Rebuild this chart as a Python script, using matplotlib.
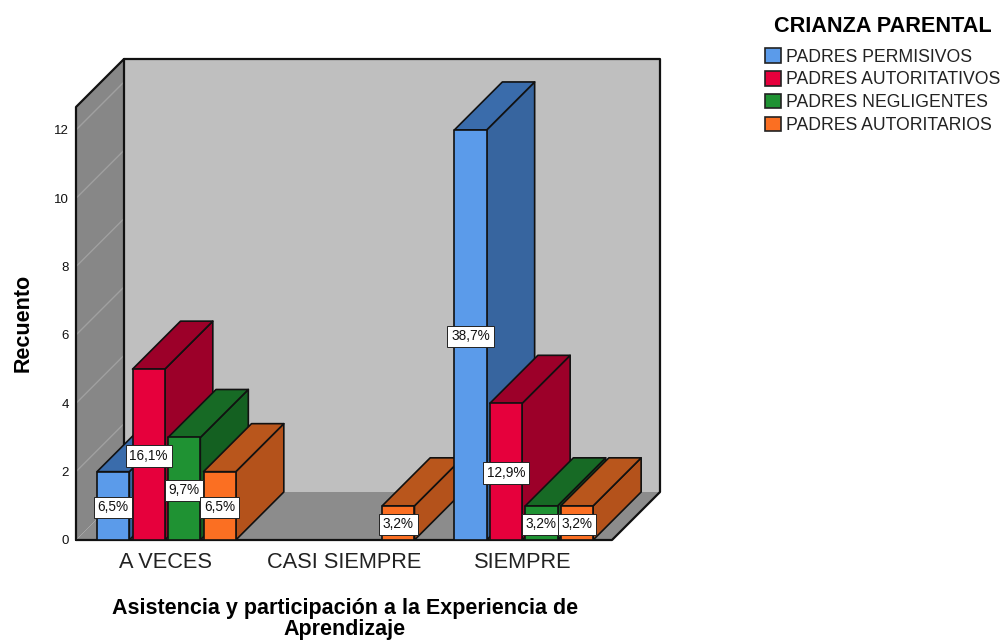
import matplotlib
matplotlib.use("Agg")
import matplotlib.pyplot as plt
from matplotlib.patches import Polygon, Patch

plt.rcParams['font.family'] = ['Liberation Sans', 'DejaVu Sans']

categories = ["A VECES", "CASI SIEMPRE", "SIEMPRE"]
series = ["PADRES PERMISIVOS", "PADRES AUTORITATIVOS", "PADRES NEGLIGENTES", "PADRES AUTORITARIOS"]
permisivos = [2, 0, 12]
autoritativos = [5, 0, 4]
negligentes = [3, 0, 1]
autoritarios = [2, 1, 1]
pct_permisivos = ["6,5%", None, "38,7%"]
pct_autoritativos = ["16,1%", None, "12,9%"]
pct_negligentes = ["9,7%", None, "3,2%"]
pct_autoritarios = ["6,5%", "3,2%", "3,2%"]
yticks = [0, 2, 4, 6, 8, 10, 12]

front = ["#5b9bea", "#e6003c", "#1f9233", "#fb6f22"]
side = ["#37659f", "#9c0029", "#146021", "#b4521b"]
top = ["#3a6cab", "#9c0029", "#176a25", "#b9561c"]

W, H = 1008, 640
fig = plt.figure(figsize=(W / 100, H / 100), dpi=100, facecolor="white")
px_left, px_right, px_bottom, px_top = 76, 612, 540, 107
ax = fig.add_axes([px_left / W, 1 - px_bottom / H, (px_right - px_left) / W, (px_bottom - px_top) / H])
ax.set_xlim(-0.5, 2.5)
px_per_y = 34.17
ax.set_ylim(0, (px_bottom - px_top) / px_per_y)
px_per_x = (px_right - px_left) / 3
dx = 48 / px_per_x
dy = 48 / px_per_y
ymax = ax.get_ylim()[1]
x0, x1 = ax.get_xlim()

def poly(pts, fc, ec="#111111", lw=1.2, z=2):
    ax.add_patch(Polygon(pts, closed=True, facecolor=fc, edgecolor=ec, linewidth=lw, clip_on=False, zorder=z, joinstyle="round"))

# walls
poly([(x0 + dx, dy), (x1 + dx, dy), (x1 + dx, ymax + dy), (x0 + dx, ymax + dy)], "#bfbfbf", ec="none", lw=0)
poly([(x0, 0), (x0 + dx, dy), (x0 + dx, ymax + dy), (x0, ymax)], "#878787", ec="none", lw=0)
poly([(x0, 0), (x1, 0), (x1 + dx, dy), (x0 + dx, dy)], "#8c8c8c", ec="none", lw=0)
for t in yticks[1:]:
    ax.plot([x0, x0 + dx], [t, t + dy], color="#a0a0a0", lw=1.0, clip_on=False, zorder=2.5)
edge = dict(color="#111111", lw=1.6, clip_on=False, zorder=2.6, solid_capstyle="round")
ax.plot([x0, x0, x0 + dx, x1 + dx, x1 + dx, x1, x0], [0, ymax, ymax + dy, ymax + dy, dy, 0, 0], **edge)
ax.plot([x0 + dx, x0 + dx], [dy, ymax + dy], **edge)

# bars
pitch = 35.5 / px_per_x
bar_w = 32.3 / px_per_x
shift = 0.015
values = [permisivos, autoritativos, negligentes, autoritarios]
pcts = [pct_permisivos, pct_autoritativos, pct_negligentes, pct_autoritarios]
z = 3
for c in range(len(categories)):
    for s in range(len(series)):
        v = values[s][c]
        if v <= 0:
            continue
        xl = c + (s - 2) * pitch + shift
        xr = xl + bar_w
        poly([(xr, 0), (xr + dx, dy), (xr + dx, v + dy), (xr, v)], side[s], z=z)
        poly([(xl, v), (xr, v), (xr + dx, v + dy), (xl + dx, v + dy)], top[s], z=z)
        poly([(xl, 0), (xr, 0), (xr, v), (xl, v)], front[s], z=z)
        z += 0.01

for c in range(len(categories)):
    for s in range(len(series)):
        v = values[s][c]
        if v <= 0:
            continue
        xl = c + (s - 2) * pitch + shift
        ax.text(xl + bar_w / 2, v / 2, pcts[s][c], ha="center", va="center_baseline", fontsize=9.8,
                color="#111111", zorder=10, clip_on=False,
                bbox=dict(boxstyle="square,pad=0.27", fc="white", ec="#222222", lw=0.7))

for sp in ax.spines.values():
    sp.set_visible(False)
ax.patch.set_visible(False)
ax.set_xticks(range(len(categories)))
ax.set_xticklabels(categories, fontsize=15.7, color="#222222")
ax.set_yticks(yticks)
ax.set_yticklabels([str(t) for t in yticks], fontsize=9.5, color="#111111")
ax.tick_params(axis="both", length=0)
ax.tick_params(axis="y", pad=5)
ax.tick_params(axis="x", pad=9)

fig.text(23 / W, 1 - 323 / H, "Recuento", rotation=90, ha="center", va="center", fontsize=15.5, fontweight="bold")
fig.text(345 / W, 1 - 619 / H, "Asistencia y participación a la Experiencia de\nAprendizaje", ha="center", va="center",
         fontsize=15.5, fontweight="bold", linespacing=1.0)

handles = [Patch(facecolor=f, edgecolor="#222222", linewidth=1.2) for f in front]
leg = fig.legend(handles, series, loc="upper left", bbox_to_anchor=(765 / W, 1 - 16 / H), frameon=False,
                 fontsize=12.7, title="CRIANZA PARENTAL",
                 title_fontproperties={"weight": "bold", "size": 15.6},
                 labelspacing=0.31, handlelength=0.9, handleheight=0.9, handletextpad=0.28,
                 borderpad=0, borderaxespad=0, labelcolor="#222222")
leg._legend_box.sep = 8
fig.savefig("out.png", dpi=100)
